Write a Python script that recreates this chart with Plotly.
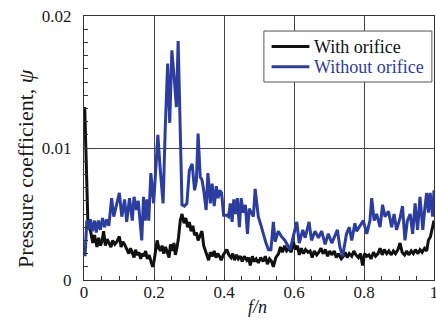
import plotly.graph_objects as go

# Blue: without orifice (f/n, psi)
f_without = [0.003,0.008,0.013,0.018,0.024,0.030,0.035,0.041,0.047,0.053,0.059,0.065,0.071,0.079,0.085,0.093,
             0.101,0.108,0.116,0.122,0.130,0.138,0.143,0.150,0.155,0.160,0.165,0.170,0.175,0.180,0.185,0.191,
             0.199,0.206,0.211,0.218,0.226,0.232,0.239,0.245,0.251,0.258,0.264,0.269,0.273,0.280,0.287,0.294,
             0.301,0.309,0.316,0.321,0.326,0.332,0.337,0.342,0.349,0.354,0.361,0.366,0.372,0.378,0.383,0.388,
             0.393,0.399,0.408,0.413,0.418,0.423,0.428,0.433,0.438,0.444,0.449,0.455,0.461,0.467,0.472,0.478,
             0.484,0.489,0.494,0.498,0.505,0.512,0.520,0.527,0.534,0.541,0.546,0.555,0.564,0.574,0.581,0.589,
             0.598,0.608,0.615,0.625,0.632,0.643,0.650,0.660,0.670,0.679,0.689,0.698,0.708,0.717,0.724,0.731,
             0.739,0.750,0.758,0.765,0.774,0.779,0.789,0.798,0.808,0.817,0.822,0.829,0.836,0.846,0.853,0.860,
             0.870,0.879,0.886,0.893,0.903,0.910,0.917,0.924,0.932,0.939,0.946,0.953,0.960,0.968,0.974,0.979,
             0.984,0.989,0.996,1.000]
psi_without = [0.0018,0.0045,0.0038,0.0046,0.0037,0.0045,0.0036,0.0045,0.0038,0.0047,0.0040,0.0046,0.0041,0.0062,0.0048,0.0056,
               0.0066,0.0048,0.0061,0.0044,0.0062,0.0045,0.0063,0.0053,0.0060,0.0045,0.0030,0.0063,0.0045,0.0061,0.0045,0.0081,
               0.0058,0.0088,0.0110,0.0083,0.0058,0.0114,0.0164,0.0119,0.0174,0.0152,0.0131,0.0181,0.0139,0.0057,0.0056,0.0058,
               0.0083,0.0088,0.0068,0.0075,0.0111,0.0078,0.0076,0.0068,0.0053,0.0081,0.0058,0.0073,0.0056,0.0071,0.0062,0.0068,
               0.0066,0.0049,0.0049,0.0048,0.0058,0.0044,0.0061,0.0050,0.0062,0.0040,0.0062,0.0051,0.0057,0.0035,0.0054,0.0051,
               0.0048,0.0069,0.0055,0.0048,0.0042,0.0035,0.0028,0.0023,0.0023,0.0044,0.0029,0.0037,0.0033,0.0030,0.0027,0.0023,
               0.0033,0.0044,0.0028,0.0038,0.0032,0.0044,0.0030,0.0037,0.0032,0.0037,0.0027,0.0035,0.0028,0.0033,0.0038,0.0025,
               0.0018,0.0035,0.0040,0.0030,0.0043,0.0037,0.0041,0.0045,0.0035,0.0045,0.0062,0.0045,0.0050,0.0040,0.0057,0.0048,
               0.0052,0.0040,0.0050,0.0038,0.0047,0.0056,0.0030,0.0045,0.0050,0.0035,0.0058,0.0038,0.0063,0.0038,0.0055,0.0066,
               0.0051,0.0066,0.0048,0.0068]

# Black: with orifice (f/n, psi)
f_with = [0.002,0.006,0.011,0.015,0.019,0.025,0.030,0.037,0.042,0.047,0.052,0.056,0.061,0.066,0.071,0.077,0.082,0.088,
          0.094,0.101,0.106,0.111,0.116,0.122,0.128,0.133,0.138,0.143,0.147,0.152,0.157,0.162,0.166,0.171,0.176,0.181,
          0.186,0.191,0.196,0.200,0.205,0.209,0.214,0.219,0.223,0.228,0.233,0.238,0.243,0.247,0.252,0.257,0.261,0.266,
          0.270,0.275,0.280,0.286,0.291,0.296,0.301,0.306,0.311,0.316,0.321,0.326,0.331,0.337,0.342,0.346,0.351,0.356,
          0.361,0.367,0.372,0.377,0.382,0.387,0.392,0.398,0.403,0.408,0.414,0.420,0.425,0.430,0.436,0.441,0.447,0.452,
          0.458,0.465,0.470,0.475,0.481,0.486,0.492,0.498,0.505,0.512,0.518,0.524,0.530,0.536,0.541,0.548,0.556,0.561,
          0.567,0.573,0.579,0.586,0.592,0.598,0.604,0.610,0.615,0.621,0.627,0.633,0.640,0.646,0.652,0.658,0.665,0.671,
          0.677,0.683,0.690,0.696,0.702,0.708,0.715,0.721,0.727,0.735,0.741,0.746,0.752,0.758,0.765,0.771,0.777,0.784,
          0.790,0.796,0.802,0.808,0.814,0.820,0.827,0.833,0.840,0.846,0.852,0.858,0.865,0.871,0.878,0.884,0.890,0.897,
          0.903,0.909,0.916,0.922,0.928,0.935,0.941,0.947,0.954,0.960,0.966,0.973,0.979,0.984,0.990,0.995,1.000]
psi_with = [0.0131,0.0090,0.0045,0.0039,0.0037,0.0028,0.0034,0.0025,0.0032,0.0026,0.0030,0.0037,0.0026,0.0031,0.0028,0.0025,0.0030,0.0027,
            0.0029,0.0033,0.0025,0.0029,0.0027,0.0024,0.0020,0.0024,0.0021,0.0017,0.0023,0.0019,0.0021,0.0016,0.0020,0.0018,0.0022,0.0016,
            0.0019,0.0015,0.0010,0.0014,0.0022,0.0030,0.0024,0.0022,0.0026,0.0020,0.0025,0.0021,0.0017,0.0027,0.0022,0.0028,0.0019,0.0025,
            0.0032,0.0045,0.0050,0.0043,0.0047,0.0040,0.0044,0.0037,0.0041,0.0034,0.0036,0.0030,0.0033,0.0037,0.0026,0.0022,0.0019,0.0015,
            0.0021,0.0018,0.0022,0.0017,0.0020,0.0018,0.0015,0.0019,0.0021,0.0023,0.0019,0.0017,0.0020,0.0015,0.0019,0.0016,0.0018,0.0014,
            0.0018,0.0015,0.0017,0.0011,0.0018,0.0014,0.0016,0.0013,0.0017,0.0014,0.0018,0.0012,0.0016,0.0014,0.0010,0.0017,0.0020,0.0025,
            0.0021,0.0026,0.0022,0.0024,0.0021,0.0029,0.0023,0.0026,0.0019,0.0024,0.0020,0.0023,0.0021,0.0022,0.0017,0.0022,0.0019,0.0021,
            0.0024,0.0020,0.0023,0.0018,0.0022,0.0019,0.0022,0.0017,0.0020,0.0016,0.0018,0.0021,0.0017,0.0020,0.0018,0.0022,0.0019,0.0017,
            0.0020,0.0011,0.0020,0.0018,0.0019,0.0016,0.0021,0.0018,0.0020,0.0024,0.0019,0.0023,0.0020,0.0022,0.0019,0.0022,0.0020,0.0023,
            0.0028,0.0021,0.0019,0.0022,0.0019,0.0022,0.0020,0.0023,0.0020,0.0023,0.0021,0.0024,0.0022,0.0030,0.0033,0.0040,0.0045]

series_names = ["With orifice", "Without orifice"]
x_ticks = [0, 0.2, 0.4, 0.6, 0.8, 1]
x_ticklabels = ["0", "0.2", "0.4", "0.6", "0.8", "1"]
y_ticks = [0, 0.01, 0.02]
y_ticklabels = ["0", "0.01", "0.02"]

SERIF = "Liberation Serif"
BLUE = "#2c3da0"
BLACK = "#111111"
AX = "#333333"
TXT = "#1a1a1a"

fig = go.Figure()
fig.add_trace(go.Scatter(x=f_with, y=psi_with, mode="lines", name=series_names[0],
                         line=dict(color=BLACK, width=3), showlegend=False))
fig.add_trace(go.Scatter(x=f_without, y=psi_without, mode="lines", name=series_names[1],
                         line=dict(color=BLUE, width=3), showlegend=False))

fig.update_layout(
    width=436, height=329,
    margin=dict(l=84, r=2, t=16, b=49, autoexpand=False),
    paper_bgcolor="white", plot_bgcolor="white",
    font=dict(family=SERIF, size=17, color=TXT),
    xaxis=dict(range=[0, 1], tickvals=x_ticks, ticktext=x_ticklabels, automargin=False,
               showgrid=True, gridcolor="#444444", gridwidth=1,
               showline=True, linecolor=AX, linewidth=1, mirror=True,
               ticks="inside", ticklen=5, tickcolor=AX, zeroline=False,
               minor=dict(dtick=0.05, ticks="inside", ticklen=4, tickcolor=AX, showgrid=False),
               tickfont=dict(family=SERIF, size=17, color=TXT),
               ticklabeloverflow="allow", ticklabelstandoff=-3),
    yaxis=dict(range=[0, 0.02], tickvals=y_ticks, ticktext=y_ticklabels, automargin=False,
               showgrid=True, gridcolor="#444444", gridwidth=1,
               showline=True, linecolor=AX, linewidth=1, mirror=True,
               ticks="inside", ticklen=5, tickcolor=AX, zeroline=False,
               minor=dict(dtick=0.001, ticks="inside", ticklen=4, tickcolor=AX, showgrid=False),
               tickfont=dict(family=SERIF, size=17, color=TXT),
               ticklabelstandoff=8),
)

# axis titles
fig.add_annotation(text="Pressure coefficient, <i>ψ</i>", textangle=-90,
                   xref="paper", yref="paper", x=-0.169, y=0.424,
                   xanchor="center", yanchor="middle", showarrow=False,
                   font=dict(family=SERIF, size=22, color=TXT))
fig.add_annotation(text="<i>f/n</i>", xref="paper", yref="paper", x=0.496, y=-0.102,
                   xanchor="center", yanchor="middle", showarrow=False,
                   font=dict(family=SERIF, size=18, color=TXT))

# legend box (drawn in paper coordinates)
fig.add_shape(type="rect", xref="paper", yref="paper", x0=0.514, x1=0.994, y0=0.75, y1=0.943,
              line=dict(color="#555555", width=1), fillcolor="white", layer="above")
legend_rows = [(series_names[0], BLACK, 0.884), (series_names[1], BLUE, 0.808)]
for name, col, yy in legend_rows:
    fig.add_shape(type="line", xref="paper", yref="paper", x0=0.536, x1=0.644, y0=yy, y1=yy,
                  line=dict(color=col, width=3), layer="above")
    fig.add_annotation(text=name, xref="paper", yref="paper", x=0.652, y=yy,
                       xanchor="left", yanchor="middle", showarrow=False,
                       font=dict(family=SERIF, size=18, color=col))

fig.write_html("out.html", config={"displayModeBar": False},
               post_script="document.body.style.margin='0px';document.body.style.padding='0px';")
